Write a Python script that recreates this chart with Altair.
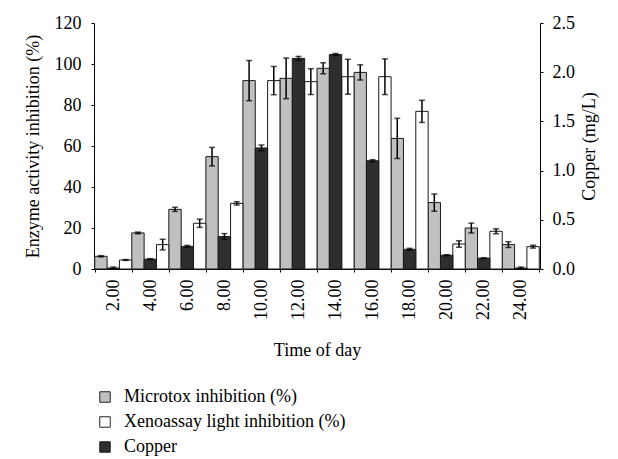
import altair as alt
import pandas as pd

times = ["2.00", "4.00", "6.00", "8.00", "10.00", "12.00", "14.00", "16.00",
         "18.00", "20.00", "22.00", "24.00"]
microtox = [6.2, 17.6, 29.1, 54.8, 91.9, 93.0, 97.9, 95.9, 63.7, 32.4, 20.0, 11.9]
microtox_err = [0.3, 0.4, 1.0, 4.5, 9.8, 9.9, 2.7, 3.7, 9.8, 4.2, 2.4, 1.4]
xeno = [4.4, 11.9, 22.3, 32.0, 91.9, 91.4, 93.8, 93.8, 76.9, 12.2, 18.4, 10.9]
xeno_err = [0.2, 2.6, 2.0, 0.8, 6.9, 6.3, 8.5, 8.7, 5.4, 1.6, 1.2, 0.7]
copper = [0.01, 0.10, 0.23, 0.33, 1.23, 2.14, 2.18, 1.10, 0.20, 0.14, 0.11, 0.01]
copper_err = [0.01, 0.005, 0.01, 0.03, 0.03, 0.02, 0.01, 0.01, 0.01, 0.005, 0.005, 0.01]

S_M = "Microtox inhibition (%)"
S_X = "Xenoassay light inhibition (%)"
S_C = "Copper"

inh = pd.DataFrame({
    "time": times * 2,
    "series": [S_M] * len(times) + [S_X] * len(times),
    "value": microtox + xeno,
    "err": microtox_err + xeno_err,
})
cu = pd.DataFrame({
    "time": times,
    "series": [S_C] * len(times),
    "value": copper,
    "err": copper_err,
})

FONT = "Liberation Serif"

x_enc = alt.X("time:N", sort=times,
              scale=alt.Scale(paddingInner=0, paddingOuter=0.02),
              axis=alt.Axis(title="Time of day", labelAngle=270, tickBand="extent",
                            labelPadding=7, titlePadding=22))
xo_enc = alt.XOffset("series:N",
                     scale=alt.Scale(domain=[S_M, S_C, S_X], paddingInner=0, paddingOuter=0))
color_enc = alt.Color("series:N",
                      scale=alt.Scale(domain=[S_M, S_X, S_C],
                                      range=["#c0c0c0", "#ffffff", "#2e2e2e"]),
                      legend=alt.Legend(title=None, orient="none", legendX=2, legendY=365,
                                        symbolType="square", symbolSize=110,
                                        symbolStrokeColor="#222222", symbolStrokeWidth=1,
                                        labelFont=FONT, labelFontSize=18, labelOffset=10,
                                        labelLimit=0, rowPadding=7, padding=0))

left_axis = alt.Axis(title="Enzyme activity inhibition (%)", values=[0, 20, 40, 60, 80, 100, 120],
                     labelPadding=10, titlePadding=12)
right_axis = alt.Axis(title="Copper (mg/L)", orient="right", values=[0, 0.5, 1.0, 1.5, 2.0, 2.5],
                      format=".1f", labelPadding=9, titlePadding=24, titleAngle=270)
left_scale = alt.Scale(domain=[0, 120], nice=False)
right_scale = alt.Scale(domain=[0, 2.5], nice=False)


def group(df, scale, axis):
    base = alt.Chart(df).transform_calculate(
        lo="datum.value - datum.err", hi="datum.value + datum.err"
    )
    bars = base.mark_bar(stroke="#1a1a1a", strokeWidth=1).encode(
        x=x_enc, xOffset=xo_enc,
        y=alt.Y("value:Q", scale=scale, axis=axis),
        color=color_enc,
    )
    rule = base.mark_rule(color="black", strokeWidth=1.5).encode(
        x=x_enc, xOffset=xo_enc,
        y=alt.Y("lo:Q", scale=scale, axis=axis), y2="hi:Q",
    )
    cap_lo = base.mark_tick(color="black", thickness=1.5, size=6).encode(
        x=x_enc, xOffset=xo_enc, y=alt.Y("lo:Q", scale=scale, axis=axis),
    )
    cap_hi = base.mark_tick(color="black", thickness=1.5, size=6).encode(
        x=x_enc, xOffset=xo_enc, y=alt.Y("hi:Q", scale=scale, axis=axis),
    )
    return alt.layer(bars, rule, cap_lo, cap_hi)


left = group(inh, left_scale, left_axis)
right = group(cu, right_scale, right_axis)

chart = alt.layer(left, right).resolve_scale(y="independent").properties(
    width=446, height=246, padding={"left": 16, "top": 6, "right": 5, "bottom": 5}
).configure_view(stroke=None).configure_axis(
    labelFont=FONT, labelFontSize=18, labelColor="black",
    titleFont=FONT, titleFontSize=18, titleFontWeight="normal", titleColor="black",
    domainColor="black", tickColor="black", tickSize=3, grid=False,
).configure_legend(labelColor="black")

chart.save("out.html", embed_options={"renderer": "svg", "actions": False})
